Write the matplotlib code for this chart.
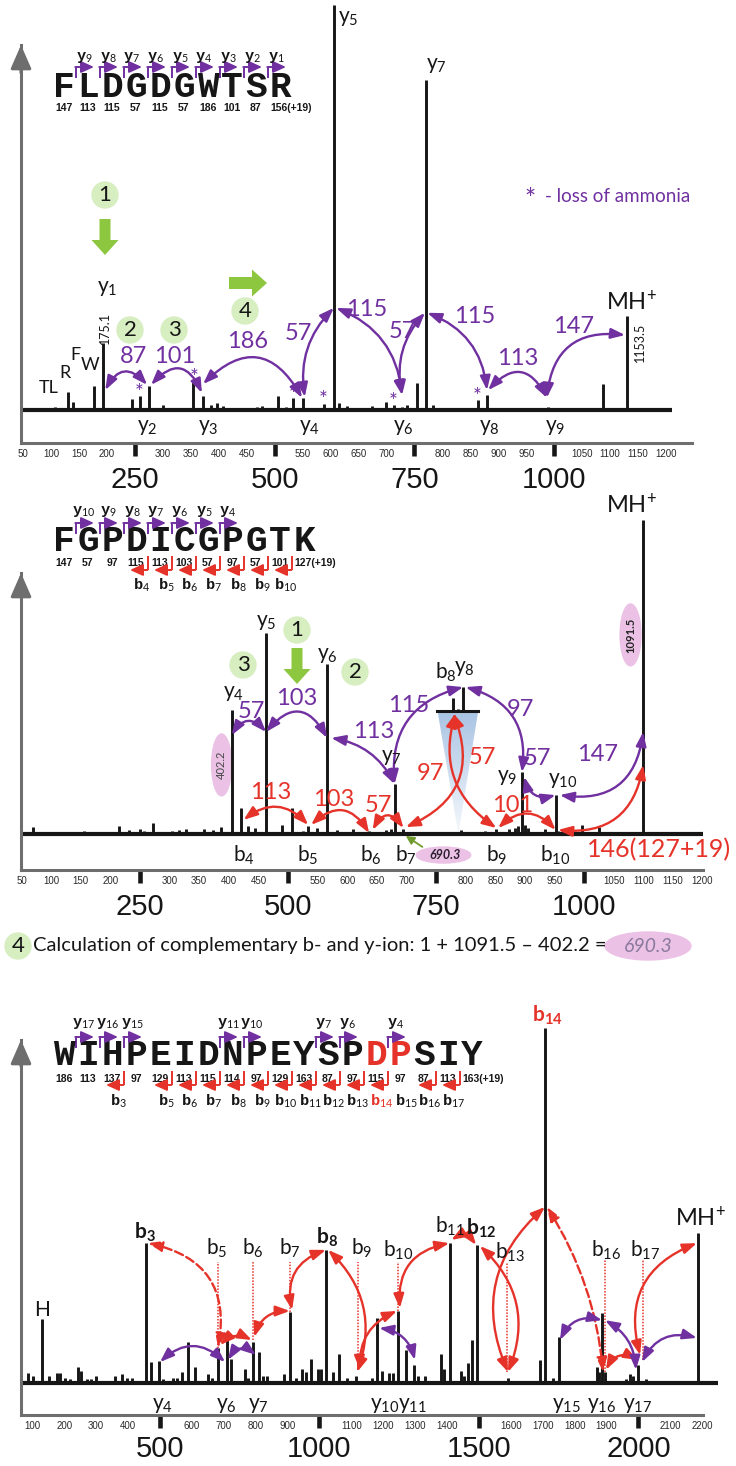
import matplotlib
matplotlib.use("Agg")
import matplotlib.pyplot as plt
import numpy as np
from matplotlib import font_manager
from matplotlib.patches import Ellipse, Circle, FancyArrow, Polygon

plt.rcParams['font.family'] = ['Lato', 'DejaVu Sans']
plt.rcParams['mathtext.fontset'] = 'custom'
plt.rcParams['mathtext.rm'] = 'Lato'
plt.rcParams['mathtext.it'] = 'Lato:italic'
plt.rcParams['mathtext.bf'] = 'Lato:bold'

_names = {f.name for f in font_manager.fontManager.ttflist}
NARROW = 'Liberation Sans Narrow' if 'Liberation Sans Narrow' in _names else 'Liberation Sans'

PURPLE = '#7030a0'
RED = '#e5332a'
GRAY = '#6e6e6e'
GREEN = '#8dc63f'
PALE = '#d6eec0'
PINK = '#ebc2e6'
INK = '#161616'

# ---------------- panel 1 : FLDGDGWTSR ----------------
seq1 = "FLDGDGWTSR"
mass1 = ["147", "113", "115", "57", "115", "57", "186", "101", "87", "156(+19)"]
y_ions1 = [9, 8, 7, 6, 5, 4, 3, 2, 1]
mz1 = [107, 130, 139, 177, 193, 245, 259, 275, 300, 354, 372, 386, 397, 408, 468, 478,
       506, 520, 533, 551, 567, 588, 606, 615, 630, 674, 699, 714, 728, 737, 755, 771,
       783, 864, 880, 989, 1087, 1130]
int1 = [0.8, 4.4, 2.0, 6.0, 16.5, 2.7, 3.5, 6.0, 1.2, 7.4, 3.5, 1.2, 1.7, 1.0, 0.8, 1.0,
        3.5, 0.8, 3.0, 3.0, 0.6, 1.5, 100, 1.7, 1.0, 1.0, 2.0, 1.2, 0.8, 1.2, 6.6, 81.5,
        1.2, 2.5, 3.7, 0.7, 6.4, 23.2]
stars1_mz = [257, 356, 533, 587, 712, 862]
stars1_h = [4.9, 8.6, 4.2, 3.0, 2.5, 3.7]
# purple arcs: start, end, rad, label, label position
arcs1 = [((197, 4.9), (272, 6.2), -0.7, "87", (247, 13.1)),
         ((279, 6.2), (370, 4.2), -0.75, "101", (322, 13.3)),
         ((372, 6.4), (549, 3.0), -0.65, "186", (451, 16.8)),
         ((554, 3.2), (606, 25.2), -0.25, "57", (542, 19.0)),
         ((610, 25.2), (728, 3.7), -0.3, "115", (664, 24.7)),
         ((728, 3.7), (769, 24.0), -0.25, "57", (728, 19.3)),
         ((773, 24.0), (880, 4.9), -0.3, "115", (858, 23.0)),
         ((882, 4.9), (987, 3.0), -0.7, "113", (935, 12.8)),
         ((987, 3.0), (1127, 18.5), -0.5, "147", (1034, 20.5))]

# ---------------- panel 2 : FGPDICGPGTK ----------------
seq2 = "FGPDICGPGTK"
mass2 = ["147", "57", "97", "115", "113", "103", "57", "97", "57", "101", "127(+19)"]
y_ions2 = [10, 9, 8, 7, 6, 5, 4]
b_ions2 = [4, 5, 6, 7, 8, 9, 10]
mz2 = [70, 85, 119, 156, 215, 232, 250, 257, 272, 304, 316, 327, 358, 374, 386, 405,
       420, 433, 445, 463, 490, 507, 526, 534, 549, 566, 583, 610, 637, 665, 674, 680,
       695, 779, 792, 833, 852, 874, 884, 889, 895, 900, 906, 934, 952, 956, 996, 1025, 1100]
int2 = [2.2, 0.5, 0.5, 1.0, 2.5, 1.3, 1.5, 1.0, 3.5, 1.0, 1.3, 1.5, 1.5, 1.3, 2.2, 39.5,
        8.3, 2.5, 2.0, 64, 3.0, 8.3, 1.0, 2.5, 2.0, 54, 1.3, 1.5, 1.0, 1.2, 1.5, 16,
        1.5, 0.8, 1.2, 1.0, 1.5, 1.5, 2.0, 2.5, 19.7, 3.0, 2.0, 1.5, 12.4, 1.0, 3.0, 2.2, 100]
inset_mz = [779, 787, 796]
inset_h = [4.0, 0.7, 7.7]
inset_base = 39.2
purple2 = [((405, 31.5), (463, 32.5), -0.66, "57", (438, 38.9)),
           ((463, 32.5), (566, 30.6), -0.72, "103", (514, 43.3)),
           ((573, 30.6), (680, 15.9), -0.25, "113", (645, 32.5)),
           ((680, 15.9), (796, 46.8), -0.42, "115", (704, 41.0)),
           ((800, 46.8), (895, 19.7), -0.43, "97", (892, 39.5)),
           ((899, 18.2), (952, 12.4), 0.5, "57", (922, 24.2)),
           ((959, 12.4), (1100, 32.5), 0.5, "147", (1023, 25.2))]
red2 = [((425, 4.5), (534, 2.9), -0.45, "113", (470, 13.1)),
        ((539, 2.9), (637, 0.3), -0.6, "103", (578, 11.1)),
        ((643, 1.3), (695, 1.9), -0.8, "57", (653, 9.2)),
        ((699, 2.2), (779, 38.5), 0.48, "97", (741, 19.4)),
        ((783, 38.5), (852, 1.9), 0.36, "57", (828, 24.5)),
        ((855, 1.9), (952, 1.3), -0.5, "101", (880, 9.2)),
        ((956, 1.3), (1100, 22.0), 0.46, "", (0, 0))]

# ---------------- panel 3 : WIHPEIDNPEYSPDPSIY ----------------
seq3 = "WIHPEIDNPEYSPDPSIY"
mass3 = ["186", "113", "137", "97", "129", "113", "115", "114", "97", "129", "163", "87",
         "97", "115", "97", "87", "113", "163(+19)"]
y_ions3 = [17, 16, 15, 11, 10, 7, 6, 4]
b_hooks3 = [3, 5, 6, 7, 8, 9, 10, 11, 12, 13, 14, 16, 17]
b_labels3 = [3, 5, 6, 7, 8, 9, 10, 11, 12, 13, 14, 15, 16, 17]
mz3 = [86, 102, 130, 152, 177, 187, 202, 218, 243, 252, 271, 284, 299, 359, 381, 397, 412,
       456, 472, 497, 509, 541, 553, 569, 588, 610, 650, 663, 682, 710, 722, 766, 776, 792,
       810, 823, 835, 889, 907, 926, 945, 958, 973, 995, 1005, 1020, 1042, 1061, 1086, 1114,
       1165, 1180, 1196, 1218, 1230, 1246, 1271, 1296, 1309, 1331, 1381, 1390, 1409, 1444,
       1453, 1466, 1478, 1494, 1591, 1691, 1707, 1732, 1751, 1870, 1876, 1886, 1895, 1961,
       1973, 1983, 1998, 2023, 2168, 2187]
int3 = [2.8, 2.0, 18, 2.0, 2.8, 2.8, 1.5, 1.2, 4.5, 3.5, 1.0, 1.2, 2.0, 2.0, 2.5, 1.5, 1.5,
        39.4, 6.0, 6.2, 1.0, 1.5, 1.5, 3.0, 11.5, 4.5, 2.5, 1.5, 10, 14.3, 6.8, 4.0, 1.5, 11.5,
        8.7, 2.0, 2.0, 2.5, 20, 1.5, 4.0, 3.0, 6.8, 4.0, 4.0, 37.5, 3.0, 8.2, 1.5, 2.0,
        1.5, 18.3, 3.5, 2.8, 2.8, 20.3, 9.3, 5.0, 2.0, 2.0, 8.2, 4.0, 39.4, 3.3,
        2.0, 5.5, 12.1, 38.9, 1.5, 6.5, 100, 1.5, 13.0, 4.5, 3.0, 19.7, 3.0, 1.0,
        2.5, 2.0, 5.0, 1.0, 0.5, 42.3]
# dotted guides: m/z, top, bottom
guides3 = [(682, 34, 10), (792, 34, 12), (907, 34, 20), (1120, 34, 3.7), (1246, 34, 20.3),
           (1588, 34, 3.2), (1895, 35, 3.2), (2014, 35, 6.5)]
red3 = [((462, 39.4), (682, 9.9), -0.48, '--'),
        ((688, 10.7), (788, 12.1), -0.35, '-'),
        ((795, 13.0), (907, 20.3), -0.36, '-'),
        ((914, 20.6), (1020, 37.5), -0.43, '-'),
        ((1027, 37.5), (1118, 3.1), -0.32, '-'),
        ((1127, 3.7), (1243, 20.3), -0.34, '-'),
        ((1252, 21.1), (1407, 39.4), -0.44, '-'),
        ((1413, 40.3), (1491, 38.9), -0.45, '-'),
        ((1503, 38.6), (1591, 3.1), -0.34, '-'),
        ((1591, 3.1), (1707, 49.6), -0.36, '-'),
        ((1713, 49.6), (1889, 3.1), -0.12, '--'),
        ((1898, 3.7), (1998, 6.5), -0.5, '-'),
        ((2005, 7.9), (2183, 39.4), -0.44, '-')]
purple3 = [((500, 5.9), (704, 5.9), -0.46),
           ((713, 6.5), (801, 7.9), -0.55),
           ((1187, 15.5), (1299, 6.5), -0.33),
           ((1754, 12.1), (1886, 17.7), -0.4),
           ((1895, 17.7), (1992, 3.7), -0.27),
           ((2011, 5.9), (2183, 12.7), -0.4)]

W, H = 736, 1466
fig = plt.figure(figsize=(W / 100, H / 100), dpi=100)


def panel(box, xlim, ylim, small, big, bigpad):
    l, r, t, b = box
    ax = fig.add_axes([l / W, 1 - b / H, (r - l) / W, (b - t) / H])
    ax.patch.set_alpha(0)
    for s in ['top', 'right']:
        ax.spines[s].set_visible(False)
    for s in ['left', 'bottom']:
        ax.spines[s].set_color(GRAY)
        ax.spines[s].set_linewidth(2.2)
    ax.set_yticks([])
    ax.set_xticks(small, [str(v) for v in small], family='Liberation Sans', size=7, color='#2a2a2a')
    ax.tick_params(axis='x', length=0, pad=4)
    sec = ax.secondary_xaxis('bottom')
    sec.set_xticks(big, [str(v) for v in big], family=NARROW, size=21, color=INK)
    sec.tick_params(length=9.5, width=3.3, color=INK, pad=bigpad)
    sec.spines['bottom'].set_visible(False)
    ax.annotate('', xy=(0, 1.0), xycoords='axes fraction', xytext=(0, 0.93),
                arrowprops=dict(arrowstyle='-|>,head_length=0.8,head_width=0.35', color=GRAY,
                                lw=2.2, mutation_scale=18, shrinkA=0, shrinkB=0))
    ax.set_xlim(xlim)
    ax.set_ylim(ylim)
    return ax


def arc(ax, p1, p2, rad, color, ls='-'):
    ax.annotate('', xy=p2, xytext=p1, annotation_clip=False,
                arrowprops=dict(arrowstyle='<|-|>,head_length=0.6,head_width=0.22',
                                connectionstyle=f'arc3,rad={rad}', color=color, lw=1.7, ls=ls,
                                shrinkA=0, shrinkB=0, mutation_scale=14))


def lab(ax, x, y, s, size=15, color=INK, **kw):
    ax.text(x, y, s, size=size, color=color, ha='center', va='center', clip_on=False, **kw)


def peaks(ax, mz, h, x_end):
    ax.plot([ax.get_xlim()[0], x_end], [0, 0], color=INK, lw=3, clip_on=False, solid_capstyle='butt')
    ax.vlines(mz, 0, h, color=INK, lw=2.1, clip_on=False, zorder=3)


small12 = [50, 100, 150, 200, 300, 350, 400, 450, 550, 600, 650, 700, 800, 850, 900, 950,
           1050, 1100, 1150, 1200]

# ---------- panel 1 ----------
ax1 = panel((21, 692, 45, 443), (46.3, 1246.7), (-8.15, 90.1), small12, [250, 500, 750, 1000], 7)
peaks(ax1, mz1, int1, 1211)
for p1, p2, rad, s, (lx, ly) in arcs1:
    arc(ax1, p1, p2, rad, PURPLE)
    lab(ax1, lx, ly, s, size=17, color=PURPLE)
for x, y in zip(stars1_mz, stars1_h):
    lab(ax1, x, y - 0.6, '*', size=15, color=PURPLE)
lab(ax1, 631, 96.8, 'y$_{5}$')
lab(ax1, 790, 85.2, 'y$_{7}$')
lab(ax1, 200, 30.1, 'y$_{1}$')
lab(ax1, 1139, 26.7, 'MH$^{+}$', size=17)
lab(ax1, 197, 20.2, '175.1', size=9, rotation=90)
lab(ax1, 1154, 16.8, '1153.5', size=9, rotation=90)
for s, x, y in [('TL', 95, 5.4), ('R', 125, 9.1), ('F', 143, 13.6), ('W', 170, 11.1)]:
    lab(ax1, x, y, s, size=13)
for k, x in [(2, 272), (3, 381), (4, 563), (6, 730), (8, 885), (9, 1002)]:
    lab(ax1, x, -4.2, f'y$_{{{k}}}$')

# ---------- panel 2 ----------
ax2 = panel((21, 703, 573, 870), (49, 1201), (-11.46, 83.12), small12, [250, 500, 750, 1000], 7)
tri = Polygon([[752.5, inset_base], [821.4, inset_base], [787.8, 0]], closed=True,
              facecolor='none', edgecolor='none', transform=ax2.transData)
ax2.add_patch(tri)
g = np.linspace(0, 1, 120)[:, None]
img = np.zeros((120, 1, 4))
img[..., 0], img[..., 1], img[..., 2] = 0.62, 0.74, 0.88
img[..., 3] = 0.1 + 0.8 * g
ax2.imshow(img, extent=[752.5, 821.4, 0, inset_base], origin='lower', aspect='auto',
           zorder=1, clip_path=tri)
ax2.set_xlim(49, 1201)
ax2.set_ylim(-11.46, 83.12)
peaks(ax2, mz2, int2, 1201)
ax2.plot([752.5, 821.4], [inset_base, inset_base], color=INK, lw=2.2, zorder=3)
ax2.vlines(inset_mz, inset_base, np.array(inset_h) + inset_base, color=INK, lw=2.1, zorder=3)
for p1, p2, rad, s, (lx, ly) in purple2:
    arc(ax2, p1, p2, rad, PURPLE)
    lab(ax2, lx, ly, s, size=17, color=PURPLE)
for p1, p2, rad, s, (lx, ly) in red2:
    arc(ax2, p1, p2, rad, RED)
    if s:
        lab(ax2, lx, ly, s, size=17, color=RED)
for k, x, y in [(4, 408, 44.9), (5, 463, 67.5), (6, 566, 57.0), (7, 675, 24.5),
                (9, 870, 18.2), (10, 964, 17.2)]:
    lab(ax2, x, y, f'y$_{{{k}}}$')
lab(ax2, 766, 51.6, 'b$_{8}$')
lab(ax2, 798, 52.9, 'y$_{8}$')
lab(ax2, 1080, 104.8, 'MH$^{+}$', size=17)
for k, x in [(4, 425), (5, 534), (6, 640), (7, 699), (9, 852), (10, 952)]:
    lab(ax2, x, -6.7, f'b$_{{{k}}}$')
lab(ax2, 1127, -5.1, '146(127+19)', size=18, color=RED)
ax2.add_patch(Ellipse((387.8, 22), 33.6, 19.7, color=PINK, zorder=2, clip_on=False))
lab(ax2, 387.8, 22, '402.2', size=8, color='#444', rotation=90, zorder=4)
ax2.add_patch(Ellipse((1078.6, 63.4), 35.3, 19.7, color=PINK, zorder=2, clip_on=False))
lab(ax2, 1078.6, 63.4, '1091.5', size=8, color='#222', rotation=90, weight='bold', zorder=4)
ax2.add_patch(Ellipse((762.6, -6.7), 92, 5.1, color=PINK, zorder=2, clip_on=False))
lab(ax2, 765, -6.7, '690.3', size=9, color='#2b2030', weight='bold', style='italic', zorder=4)
ax2.annotate('', xy=(699, -0.6), xytext=(727, -4.1), annotation_clip=False,
             arrowprops=dict(arrowstyle='-|>,head_length=0.5,head_width=0.25', color='#6f9a2e',
                             lw=1.3, shrinkA=0, shrinkB=0, mutation_scale=10))

# ---------- panel 3 ----------
small3 = [100, 200, 300, 400, 600, 700, 800, 900, 1100, 1200, 1300, 1400, 1600, 1700, 1800,
          1900, 2100, 2200]
ax3 = panel((21, 703, 1040, 1415), (64.3, 2202.2), (-9.01, 96.62), small3, [500, 1000, 1500, 2000], 5)
peaks(ax3, mz3, int3, 2249)
for x, top, bot in guides3:
    ax3.plot([x, x], [bot, top], color=RED, lw=1.1, ls=(0, (1, 1)), zorder=2)
for p1, p2, rad, ls in red3:
    arc(ax3, p1, p2, rad, RED, ls)
for p1, p2, rad in purple3:
    arc(ax3, p1, p2, rad, PURPLE)
lab(ax3, 130, 20.6, 'H')
for s, x, y in [('$\\mathbf{b}_{\\mathbf{3}}$', 453, 42.3), ('b$_{5}$', 679, 38),
                ('b$_{6}$', 791, 38), ('b$_{7}$', 907, 38),
                ('$\\mathbf{b}_{\\mathbf{8}}$', 1023, 41.1), ('b$_{9}$', 1133, 38),
                ('b$_{10}$', 1246, 37.5), ('b$_{11}$', 1409, 44.2),
                ('$\\mathbf{b}_{\\mathbf{12}}$', 1506, 43.7), ('b$_{13}$', 1597, 36.9),
                ('b$_{16}$', 1898, 37.5), ('b$_{17}$', 2020, 37.5)]:
    lab(ax3, x, y, s)
lab(ax3, 1713, 103.7, '$\\mathbf{b}_{\\mathbf{14}}$', color=RED)
lab(ax3, 2193, 46.5, 'MH$^{+}$', size=17)
for k, x in [(4, 509), (6, 707), (7, 807), (10, 1205), (11, 1290), (15, 1773), (16, 1886), (17, 1998)]:
    lab(ax3, x, -6.2, f'y$_{{{k}}}$')

# ---------- overlay: sequences, markers, captions ----------
ov = fig.add_axes([0, 0, 1, 1], zorder=5)
ov.set_xlim(0, W)
ov.set_ylim(H, 0)
ov.axis('off')


def hook(x1, y1, x2, y2, color):
    ov.plot([x1, x1], [y1, y2], color=color, lw=1.4, solid_capstyle='butt')
    ov.annotate('', xy=(x2, y2), xytext=(x1 - 0.7, y2),
                arrowprops=dict(arrowstyle='-|>,head_length=0.55,head_width=0.25', color=color,
                                lw=1.4, shrinkA=0, shrinkB=0, mutation_scale=14))


def header(seq, masses, base, y_ions=(), b_hooks=(), b_labels=(), red=(), red_b=()):
    y_let, y_lab, y_hook, y_num, y_bh, y_bl = base
    x0, step, n = 52, 24, len(seq)
    for i, ch in enumerate(seq):
        ov.text(x0 + step * i + step / 2, y_let, ch, family='Liberation Mono', weight='bold',
                size=26, color=RED if i in red else INK, ha='center', va='baseline')
    for i, m in enumerate(masses):
        last = i == n - 1
        ov.text(x0 + step * i + (2 if last else step / 2), y_num, m, family=NARROW, weight='bold',
                size=7.5, color=INK, ha='left' if last else 'center', va='baseline')
    for k in y_ions:
        xb = x0 + step * (n - k)
        hook(xb, y_hook + 11, xb + 18, y_hook, PURPLE)
        ov.text(xb + 8, y_lab, f'y$_{{{k}}}$', family='Liberation Mono', weight='bold', size=11,
                color=INK, ha='center', va='baseline')
    for k in b_hooks:
        xb = x0 + step * k
        hook(xb, y_bh - 14, xb - 18, y_bh, RED)
    for k in b_labels:
        xb = x0 + step * k
        c = RED if k in red_b else INK
        ov.text(xb - 6, y_bl, f'b$_{{{k}}}$', family='Liberation Mono', weight='bold', size=11,
                color=c, ha='center', va='baseline')


header(seq1, mass1, (97, 60, 67, 111, 0, 0), y_ions=y_ions1)
header(seq2, mass2, (551, 514, 523, 566, 570, 590), y_ions=y_ions2, b_hooks=b_ions2, b_labels=b_ions2)
header(seq3, mass3, (1065, 1026, 1037, 1082, 1085, 1106), y_ions=y_ions3, b_hooks=b_hooks3,
       b_labels=b_labels3, red=(13, 14), red_b=(14,))


def badge(x, y, s):
    ov.add_patch(Circle((x, y), 13, color=PALE, zorder=1))
    ov.text(x, y, s, size=16, color=INK, ha='center', va='center', zorder=2)


badge(105, 195, '1')
ov.add_patch(FancyArrow(105, 219, 0, 36, width=11, head_width=27, head_length=15,
                        length_includes_head=True, color=GREEN, lw=0))
badge(130, 330, '2')
badge(174, 330, '3')
badge(245, 311, '4')
ov.add_patch(FancyArrow(229, 283, 38, 0, width=12, head_width=27, head_length=15,
                        length_includes_head=True, color=GREEN, lw=0))
ov.text(530, 200, '*', size=19, color=PURPLE, ha='center', va='center')
ov.text(545, 196, '- loss of ammonia', size=13.5, color=PURPLE, ha='left', va='center')

badge(243, 665, '3')
badge(297, 630, '1')
badge(355, 672, '2')
ov.add_patch(FancyArrow(297, 648, 0, 36, width=11, head_width=27, head_length=15,
                        length_includes_head=True, color=GREEN, lw=0))

badge(18, 946, '4')
cap = ov.text(33, 946, 'Calculation of complementary b- and y-ion: 1 + 1091.5 \u2013 402.2 =',
              size=13, color=INK, ha='left', va='center')
fig.canvas.draw()
w = cap.get_window_extent().width
cap.set_fontsize(13 * 572 / w)
ov.add_patch(Ellipse((648, 946), 86, 28, color=PINK, zorder=1))
ov.text(648, 946, '690.3', size=14, style='italic', color='#8a7a9e', ha='center', va='center', zorder=2)

fig.savefig('out.png', dpi=100)
